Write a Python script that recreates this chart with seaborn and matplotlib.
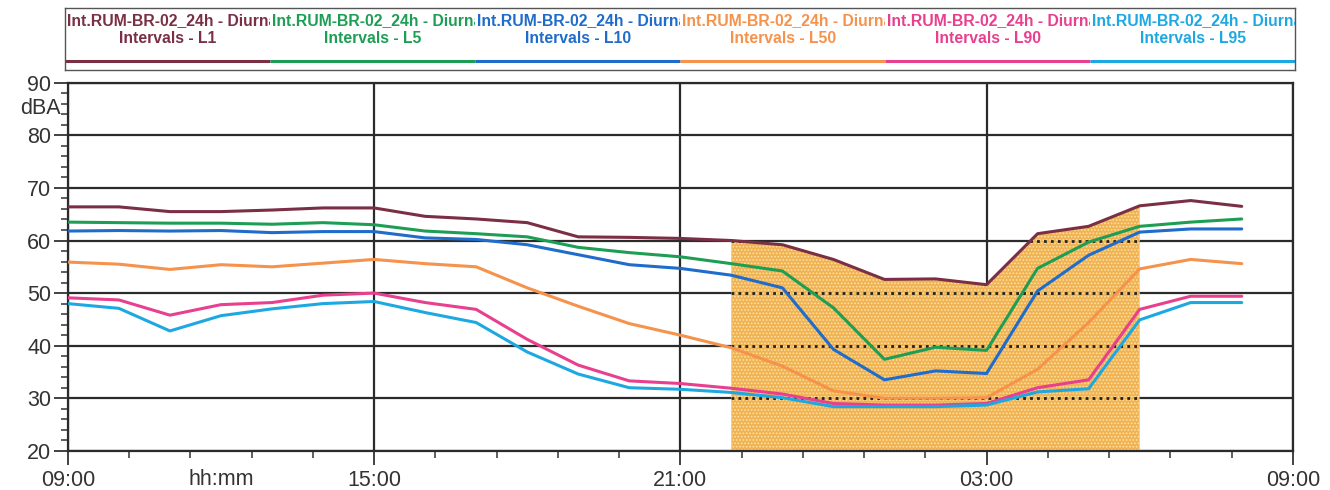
import matplotlib
matplotlib.use("Agg")
import matplotlib.pyplot as plt
import seaborn as sns
import pandas as pd
from matplotlib import font_manager
from matplotlib.transforms import Bbox, TransformedBbox, blended_transform_factory
from matplotlib.ticker import FixedLocator, MultipleLocator

# hourly interval start times (09:00 -> 08:00 next day)
times = ["09:00", "10:00", "11:00", "12:00", "13:00", "14:00", "15:00", "16:00",
         "17:00", "18:00", "19:00", "20:00", "21:00", "22:00", "23:00", "00:00",
         "01:00", "02:00", "03:00", "04:00", "05:00", "06:00", "07:00", "08:00"]

L1 = [66.4, 66.4, 65.5, 65.5, 65.8, 66.2, 66.2, 64.6, 64.1, 63.4, 60.7, 60.6,
      60.4, 60.0, 59.2, 56.4, 52.6, 52.7, 51.6, 61.3, 62.7, 66.6, 67.6, 66.5]
L5 = [63.5, 63.4, 63.3, 63.3, 63.1, 63.4, 63.0, 61.8, 61.3, 60.7, 58.7, 57.7,
      56.9, 55.6, 54.2, 47.2, 37.4, 39.7, 39.1, 54.7, 59.7, 62.7, 63.5, 64.1]
L10 = [61.8, 61.9, 61.8, 61.9, 61.5, 61.7, 61.7, 60.5, 60.2, 59.2, 57.3, 55.4,
       54.7, 53.4, 51.0, 39.3, 33.5, 35.2, 34.7, 50.4, 57.2, 61.6, 62.2, 62.2]
L50 = [55.9, 55.5, 54.5, 55.4, 55.0, 55.7, 56.4, 55.6, 55.0, 51.0, 47.5, 44.2,
       42.0, 39.6, 36.1, 31.4, 30.0, 30.0, 30.1, 35.5, 44.4, 54.6, 56.4, 55.6]
L90 = [49.1, 48.7, 45.8, 47.8, 48.2, 49.6, 50.0, 48.2, 46.9, 41.2, 36.3, 33.3,
       32.8, 31.9, 30.8, 29.0, 28.7, 28.7, 29.0, 32.0, 33.5, 46.9, 49.4, 49.4]
L95 = [48.0, 47.1, 42.8, 45.7, 47.0, 48.0, 48.4, 46.3, 44.4, 38.8, 34.6, 32.0,
       31.7, 31.1, 30.1, 28.4, 28.4, 28.4, 28.7, 31.2, 31.8, 44.9, 48.2, 48.2]

series_names = ["L1", "L5", "L10", "L50", "L90", "L95"]
series_colors = ["#7a2f45", "#1e9e55", "#1f6ccb", "#f5924c", "#e8408e", "#1ea8e2"]
legend_prefix = "Int.RUM-BR-02_24h - Diurnal"

night_start, night_end = "22:00", "06:00"
x_tick_labels = ["09:00", "15:00", "21:00", "03:00", "09:00"]
y_ticks = [20, 30, 40, 50, 60, 70, 80, 90]

sns.set_style("white")
names = {f.name for f in font_manager.fontManager.ttflist}
fam = "Liberation Sans Narrow" if "Liberation Sans Narrow" in names else "Liberation Sans"
plt.rcParams["font.family"] = [fam, "DejaVu Sans"]
plt.rcParams["hatch.linewidth"] = 0.8


def hours_from_start(t):
    h, m = t.split(":")
    return (int(h) - 9) % 24 + int(m) / 60


x = [hours_from_start(t) for t in times]
values = [L1, L5, L10, L50, L90, L95]
df = pd.DataFrame({
    "hours": x * len(values),
    "dBA": [v for s in values for v in s],
    "series": [n for n, s in zip(series_names, values) for _ in s],
})

fig = plt.figure(figsize=(13.3, 4.9), dpi=100)
ax = fig.add_axes([0.051, 0.080, 0.921, 0.751])

# night period shading under L1
i0, i1 = times.index(night_start), times.index(night_end)
xs = x[i0:i1 + 1]
shade = ax.fill_between(xs, 20, L1[i0:i1 + 1], facecolor="#f0b252",
                        edgecolor="#fde3a6", hatch=".....", linewidth=0, zorder=1.5)
dots = ax.hlines([20, 30, 40, 50, 60], xs[0], xs[-1], colors="#222222",
                 linestyles=(0, (1, 1.5)), linewidth=2, zorder=1.6)
dots.set_clip_path(shade.get_paths()[0], shade.get_transform())

sns.lineplot(data=df, x="hours", y="dBA", hue="series", hue_order=series_names,
             palette=series_colors, linewidth=2.2, legend=False, ax=ax, zorder=3)

ax.set_xlim(0, 24)
ax.set_ylim(20, 90)
ax.xaxis.set_major_locator(FixedLocator([0, 6, 12, 18, 24]))
ax.xaxis.set_minor_locator(FixedLocator([k * 1.2 for k in range(21)]))
ax.set_xticklabels(x_tick_labels)
ax.set_yticks(y_ticks)
ax.yaxis.set_minor_locator(MultipleLocator(2))
ax.tick_params(axis="both", which="major", direction="out", length=10, width=1.3,
               color="#333333", labelsize=15.5, labelcolor="#333333", pad=4, left=True, bottom=True)
ax.tick_params(axis="y", which="major", pad=2)
ax.tick_params(axis="both", which="minor", direction="out", length=5, width=1.1,
               color="#333333", left=True, bottom=True)
ax.grid(True, which="major", color="#2b2b2b", linewidth=1.6, zorder=1)
ax.set_axisbelow(True)
for sp in ax.spines.values():
    sp.set_color("#2b2b2b")
    sp.set_linewidth(1.6)
ax.set_xlabel("")
ax.set_ylabel("")

tr = blended_transform_factory(ax.transAxes, ax.transData)
ax.text(-0.006, 85.2, "dBA", transform=tr, ha="right", va="center", fontsize=15.5, color="#333333")
trx = blended_transform_factory(ax.transData, ax.transAxes)
ax.text(3, -0.05, "hh:mm", transform=trx, ha="center", va="top", fontsize=15.5, color="#333333")

# legend box
lax = fig.add_axes([0.049, 0.857, 0.9248, 0.127])
lax.set_xlim(0, 6)
lax.set_ylim(0, 1)
lax.set_xticks([])
lax.set_yticks([])
for sp in lax.spines.values():
    sp.set_color("#555555")
    sp.set_linewidth(1.0)
for i, (name, col) in enumerate(zip(series_names, series_colors)):
    clip = TransformedBbox(Bbox([[i, 0], [i + 1, 1]]), lax.transData)
    t1 = lax.text(i + 0.008, 0.80, legend_prefix, ha="left", va="center",
                  fontsize=11.3, fontweight="bold", color=col, clip_on=True)
    t1.set_clip_box(clip)
    t2 = lax.text(i + 0.5, 0.50, "Intervals - " + name, ha="center", va="center",
                  fontsize=11.3, fontweight="bold", color=col, clip_on=True)
    t2.set_clip_box(clip)
    lax.plot([i, i + 1], [0.14, 0.14], color=col, linewidth=2.2, solid_capstyle="butt")

fig.savefig("out.png", dpi=100)
